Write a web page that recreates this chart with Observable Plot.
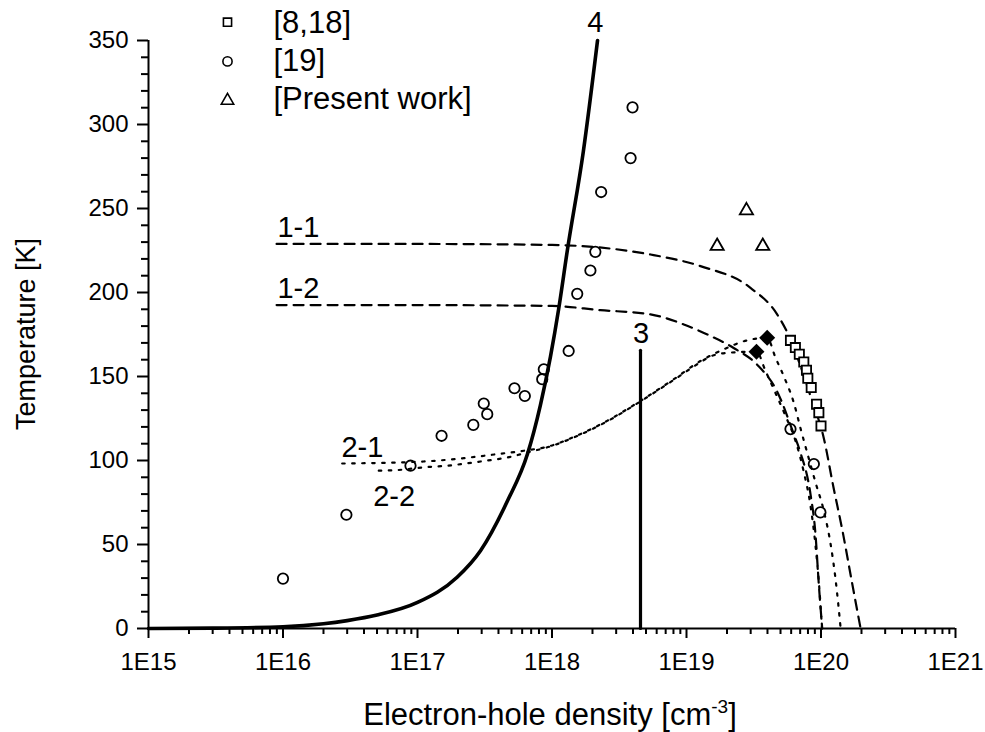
<!DOCTYPE html>
<html><head><meta charset="utf-8">
<script src="https://cdn.jsdelivr.net/npm/d3@7"></script>
<script src="https://cdn.jsdelivr.net/npm/@observablehq/plot@0.6"></script>
<style>
body{margin:0;background:#fff;}
#chart{width:985px;height:732px;}
</style></head><body><div id="chart"></div>
<script>
const FONT = "'Liberation Sans', Arial, Helvetica, sans-serif";

// Axis ticks
const xTicks = [1e15, 1e16, 1e17, 1e18, 1e19, 1e20, 1e21];
const xTickLabels = ["1E15", "1E16", "1E17", "1E18", "1E19", "1E20", "1E21"];
const yTicks = [0, 50, 100, 150, 200, 250, 300, 350];
const xTitle = "Electron-hole density [cm";
const xTitleSup = "-3";
const yTitle = "Temperature [K]";

// Curve 4 (solid)
const c4N = [1e15, 3e15, 1e16, 2e16, 3e16, 5e16, 1e17, 1.97e17, 2.94e17, 4.67e17, 6.58e17, 8.2e17, 9.75e17, 1.12e18, 1.3e18, 1.71e18, 2.18e18];
const c4T = [0, 0.2, 1, 2.8, 4.7, 8, 15.5, 30.5, 46.3, 76, 104, 133, 162, 190, 225, 284, 350];
// Curve 3 (vertical)
const c3N = [4.55e18, 4.55e18];
const c3T = [0, 165.6];
// Curve 1-1 (dashed)
const c11N = [8.96e15, 1e17, 1e18, 5.4e18, 1.27e19, 2.99e19, 4.72e19, 5.93e19, 7.05e19, 8.5e19, 1.045e20, 1.24e20, 1.445e20, 1.69e20, 1.97e20];
const c11T = [228.9, 228.9, 228.3, 222.6, 215.7, 202.8, 187, 172.1, 156.1, 136.5, 113.9, 83.8, 58.1, 28.5, 0];
// Curve 1-2 (dashed)
const c12N = [8.96e15, 1e17, 1e18, 2.29e18, 5.4e18, 9.55e18, 1.43e19, 2.24e19, 3.355e19, 4.724e19, 6.278e19, 7.04e19, 8.354e19, 9.102e19, 9.629e19, 1.021e20];
const c12T = [192.5, 192.5, 192, 189.5, 187, 181, 175, 167, 157, 141, 115.7, 104.6, 80, 56, 26.5, 0];
// Curve 2-1 (dotted)
const c21N = [2.755e16, 1.11e17, 2.21e17, 3.91e17, 6.17e17, 9.75e17, 1.45e18, 2.57e18, 4.55e18, 8.05e18, 1.27e19, 2.01e19, 2.67e19, 3.98e19, 4.6e19, 5.3e19, 6.3e19, 7.05e19, 8e19, 9.1e19, 1.05e20, 1.18e20, 1.28e20, 1.35e20, 1.4e20];
const c21T = [98.2, 99.4, 101.4, 103.8, 105.8, 108.7, 114, 123.6, 135.5, 148.4, 159.2, 167.1, 171, 173, 161, 150, 134, 119, 103, 87, 70, 50, 30, 13, 0];
// Curve 2-2 (dotted)
const c22N = [4.73e16, 7.06e16, 1.1e17, 1.66e17, 2.94e17, 4.91e17, 6.55e17, 9.75e17, 1.45e18, 2.57e18, 4.55e18, 8.05e18, 1.27e19, 1.51e19, 2.1e19, 3.314e19, 3.868e19, 4.588e19, 5.446e19, 6.463e19, 7.413e19, 8.354e19, 9.102e19, 9.745e19, 1.017e20];
const c22T = [93.9, 94.3, 95.9, 96.9, 99.4, 102.2, 104.8, 108.4, 113.7, 123.3, 135.2, 148, 158.5, 162, 164.2, 164.8, 153.3, 140.2, 126.6, 111.7, 93.9, 73.1, 49.3, 22.6, 0];

// Experimental points
const sqN = [5.93e19, 6.45e19, 6.9e19, 7.45e19, 7.8e19, 7.98e19, 8.46e19, 9.27e19, 9.64e19, 1.0e20];
const sqT = [171.5, 167.2, 163.2, 158.6, 153.7, 149, 143.4, 133.5, 128.5, 120.6];
const ciN = [1e16, 2.96e16, 8.87e16, 1.51e17, 2.6e17, 3.3e17, 3.11e17, 5.26e17, 6.28e17, 8.46e17, 8.69e17, 1.33e18, 1.54e18, 1.93e18, 2.1e18, 2.32e18, 3.84e18, 3.97e18, 5.93e19, 8.85e19, 9.9e19];
const ciT = [29.7, 67.7, 96.9, 114.7, 121.2, 127.6, 133.9, 143, 138.4, 148.4, 154.3, 165.2, 199.2, 213.1, 224.2, 259.8, 280, 310.2, 118.7, 97.9, 69.1];
const trN = [1.69e19, 2.79e19, 3.69e19];
const trT = [227.6, 248.8, 227.6];
const diN = [3.314e19, 3.98e19];
const diT = [164.8, 173];

// Curve labels
const labStartText = ["1-1", "1-2", "2-1", "2-2"];
const labStartN = [9.1e15, 9.1e15, 2.72e16, 4.68e16];
const labStartT = [232.9, 196.9, 101.8, 73.1];
const labMidText = ["3", "4"];
const labMidN = [4.59e18, 2.1e18];
const labMidT = [170.1, 354.9];

// Legend
const legendLabels = ["[8,18]", "[19]", "[Present work]"];
const legendSymbols = ["square", "circle", "triangle"];

const pts = (N, T) => N.map((n, i) => ({n, t: T[i]}));
const minorX = [];
xTicks.slice(0, -1).forEach(d => { for (let k = 2; k <= 9; k++) minorX.push(k * d); });
const minorY = [];
for (let v = 10; v < 350; v += 10) if (v % 50 !== 0) minorY.push(v);

const legendMarks = legendLabels.flatMap((lab, i) => [
  Plot.dot([lab], {frameAnchor: "top-left", dx: 79, dy: -18.3 + i * 39.2, symbol: legendSymbols[i],
    r: 4.6, stroke: "black", strokeWidth: 1.6, fill: "none"}),
  Plot.text([lab], {frameAnchor: "top-left", dx: 125, dy: -7.3 + i * 37.7, text: d => d, textAnchor: "start", lineAnchor: "bottom", fontSize: 31, fill: "black"})
]);

const chart = Plot.plot({
  width: 985, height: 732,
  marginLeft: 148, marginRight: 30, marginTop: 40, marginBottom: 104,
  style: {fontFamily: FONT, fontSize: "24px", color: "#000", background: "#fff", overflow: "visible"},
  x: {type: "log", domain: [1e15, 1e21]},
  y: {domain: [0, 350]},
  marks: [
    Plot.ruleX(minorX, {x: d => d, y1: 0, y2: 0, insetTop: 0, insetBottom: -6, stroke: "black", strokeWidth: 2}),
    Plot.ruleY(minorY, {y: d => d, x1: xTicks[0], x2: xTicks[0], insetLeft: -7, insetRight: 0, stroke: "black", strokeWidth: 2}),
    Plot.axisX(xTicks, {tickSize: 10, strokeWidth: 2, tickPadding: 14, fontSize: 24, label: null,
      tickFormat: d => xTickLabels[xTicks.indexOf(d)]}),
    Plot.axisY(yTicks, {tickSize: 11, strokeWidth: 2, tickPadding: 9, fontSize: 24, label: null}),
    Plot.ruleY([0], {strokeWidth: 2}),
    Plot.ruleX([1e15], {strokeWidth: 2}),
    Plot.line(pts(c11N, c11T), {x: "n", y: "t", curve: "monotone-x", strokeWidth: 2.2, strokeDasharray: "10,7"}),
    Plot.line(pts(c12N, c12T), {x: "n", y: "t", curve: "monotone-x", strokeWidth: 2.2, strokeDasharray: "10,7"}),
    Plot.line(pts(c21N, c21T), {x: "n", y: "t", curve: "monotone-x", strokeWidth: 2.2, strokeDasharray: "2.5,7.5"}),
    Plot.line(pts(c22N, c22T), {x: "n", y: "t", curve: "monotone-x", strokeWidth: 2.2, strokeDasharray: "2.5,7.5", strokeDashoffset: 5}),
    Plot.line(pts(c4N, c4T), {x: "n", y: "t", curve: "monotone-x", strokeWidth: 3.6}),
    Plot.line(pts(c3N, c3T), {x: "n", y: "t", strokeWidth: 3.2}),
    Plot.dot(pts(ciN, ciT), {x: "n", y: "t", r: 5.2, stroke: "black", strokeWidth: 1.8, fill: "none"}),
    Plot.dot(pts(sqN, sqT), {x: "n", y: "t", symbol: "square", r: 5.2, stroke: "black", strokeWidth: 1.8, fill: "white"}),
    Plot.dot(pts(trN, trT), {x: "n", y: "t", symbol: "triangle", r: 4.9, stroke: "black", strokeWidth: 1.8, fill: "none"}),
    Plot.dot(pts(diN, diT), {x: "n", y: "t", symbol: "diamond2", r: 7.2, fill: "black", stroke: "none"}),
    Plot.text(labStartText, {x: (d, i) => labStartN[i], y: (d, i) => labStartT[i], text: d => d, textAnchor: "start", lineAnchor: "bottom", fontSize: 29, fill: "black"}),
    Plot.text(labMidText, {x: (d, i) => labMidN[i], y: (d, i) => labMidT[i], text: d => d, textAnchor: "middle", lineAnchor: "bottom", fontSize: 29, fill: "black"}),
    ...legendMarks
  ]
});

document.getElementById("chart").appendChild(chart);

const svg = d3.select(chart);
const xt = svg.append("text")
  .attr("x", 550).attr("y", 725)
  .attr("text-anchor", "middle")
  .attr("font-family", FONT).attr("font-size", 31).attr("fill", "black");
xt.append("tspan").text(xTitle);
xt.append("tspan").attr("font-size", 19).attr("dy", -12).text(xTitleSup);
xt.append("tspan").attr("font-size", 31).attr("dy", 12).text("]");

svg.append("text")
  .attr("transform", "translate(35,334) rotate(-90)")
  .attr("text-anchor", "middle")
  .attr("font-family", FONT).attr("font-size", 27).attr("fill", "black")
  .text(yTitle);
</script>
</body></html>
